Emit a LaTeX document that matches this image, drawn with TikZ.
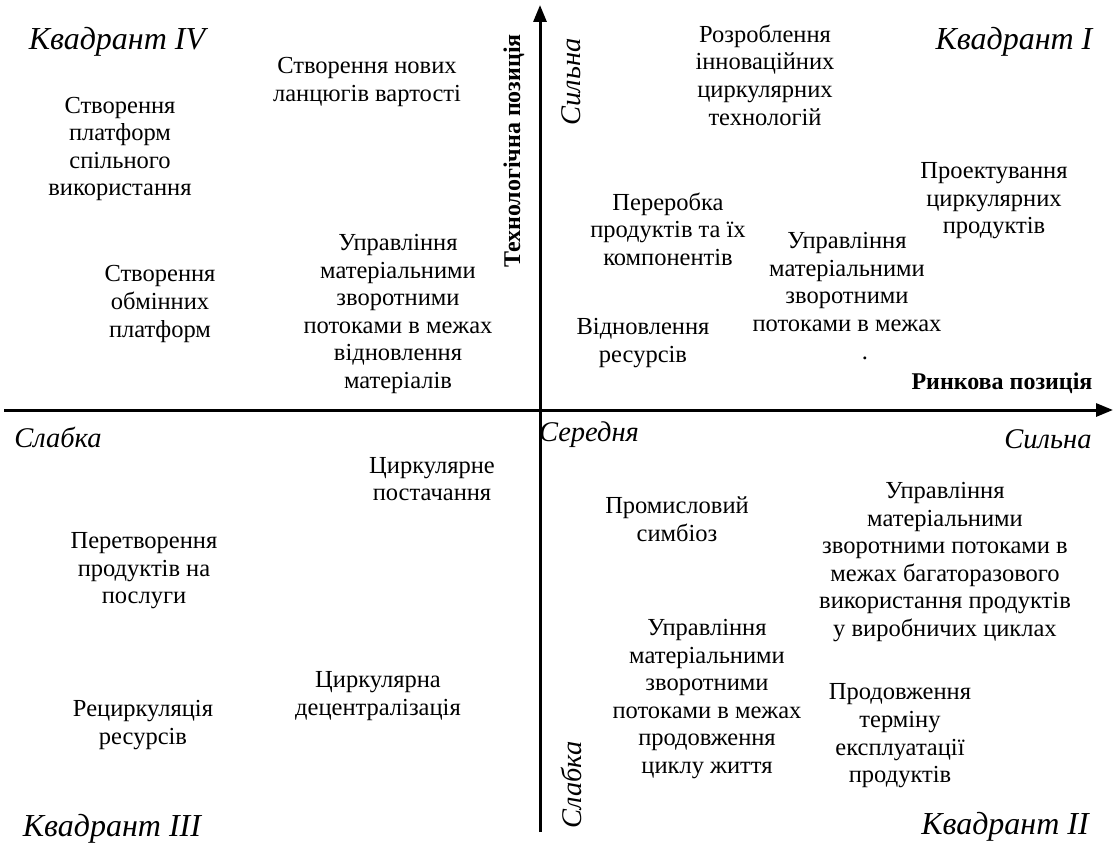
\documentclass[tikz,border=0pt]{standalone}
\usepackage{fontspec}
\setmainfont{Liberation Serif}
\usetikzlibrary{arrows.meta}
\begin{document}
\begin{tikzpicture}[x=1pt,y=-1pt,
  txt/.style={align=center,inner sep=0pt,font=\fontsize{24.5}{27.6}\selectfont},
  quad/.style={inner sep=0pt,font=\fontsize{32}{36}\selectfont\itshape},
  pole/.style={inner sep=0pt,font=\fontsize{28.5}{32}\selectfont\itshape},
  axname/.style={inner sep=0pt,font=\fontsize{24}{28}\selectfont\bfseries},
  axis/.style={line width=3pt,-{Triangle[length=17pt,width=13pt]}}]
\useasboundingbox (0,0) rectangle (1114,845);
% axes
\coordinate (xl) at (4,410);
\coordinate (xr) at (1113,410);
\coordinate (yb) at (540,832);
\coordinate (yt) at (540,5);
\draw[axis] (xl) -- (xr);
\draw[axis] (yb) -- (yt);
% axis names
\node[axname,rotate=90] (tech) at (514,151) {Технологічна позиція};
\node[axname] (mark) at (1002,383) {Ринкова позиція};
% poles
\node[pole,rotate=90] (vstrong) at (571,82) {Сильна};
\node[pole,rotate=90] (vweak) at (571,785) {Слабка};
\node[pole] (hweak) at (58,437) {Слабка};
\node[pole] (hmid) at (589,435) {Середня};
\node[pole] (hstrong) at (1048,439) {Сильна};
% quadrants
\node[quad] (q4) at (117,42) {Квадрант IV};
\node[quad] (q1) at (1014,42) {Квадрант I};
\node[quad] (q3) at (112,829) {Квадрант III};
\node[quad] (q2) at (1005,827) {Квадрант II};
% quadrant IV
\node[txt] (a1) at (367,82) {Створення нових\\ланцюгів вартості};
\node[txt] (a2) at (120,149) {Створення\\платформ\\спільного\\використання};
\node[txt] (a3) at (160,304) {Створення\\обмінних\\платформ};
\node[txt] (a4) at (398,314) {Управління\\матеріальними\\зворотними\\потоками в межах\\відновлення\\матеріалів};
% quadrant I
\node[txt] (b1) at (765,75) {Розроблення\\інноваційних\\циркулярних\\технологій};
\node[txt] (b2) at (994,201) {Проектування\\циркулярних\\продуктів};
\node[txt] (b3) at (668,229) {Переробка\\продуктів та їх\\компонентів};
\node[txt] (b4) at (847,296) {Управління\\матеріальними\\зворотними\\потоками в межах\\\hspace*{36pt}.};
\node[txt] (b5) at (643,343) {Відновлення\\ресурсів};
% quadrant III
\node[txt] (c1) at (432,479) {Циркулярне\\постачання};
\node[txt] (c2) at (144,571) {Перетворення\\продуктів на\\послуги};
\node[txt] (c3) at (378,696) {Циркулярна\\децентралізація};
\node[txt] (c4) at (143,725) {Рециркуляція\\ресурсів};
% quadrant II
\node[txt] (d1) at (677,519) {Промисловий\\симбіоз};
\node[txt] (d2) at (945,562) {Управління\\матеріальними\\зворотними потоками в\\межах багаторазового\\використання продуктів\\у виробничих циклах};
\node[txt] (d3) at (707,699) {Управління\\матеріальними\\зворотними\\потоками в межах\\продовження\\циклу життя};
\node[txt] (d4) at (900,736) {Продовження\\терміну\\експлуатації\\продуктів};
\end{tikzpicture}
\end{document}
